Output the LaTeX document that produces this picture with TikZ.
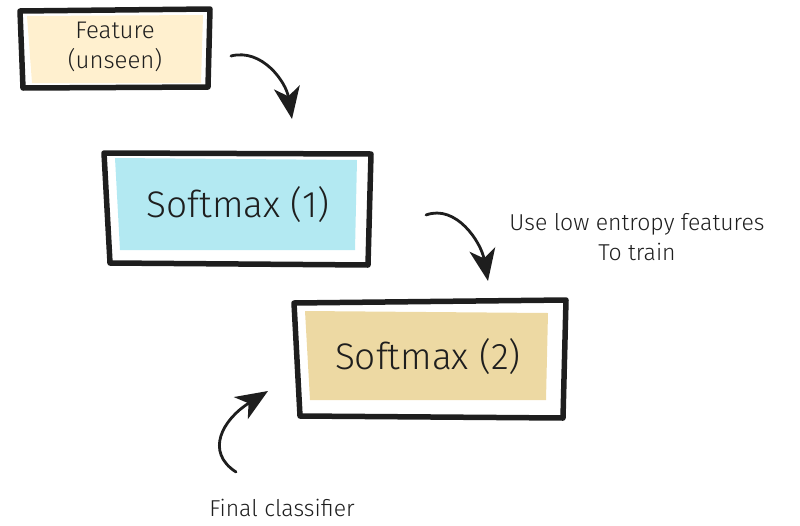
\documentclass[tikz,border=0pt]{standalone}
\usepackage{fontspec}
\setmainfont{Fira Sans}[UprightFont={* Light}]
\usetikzlibrary{calc,arrows.meta}
\definecolor{ink}{HTML}{1E1E1E}
\definecolor{creamfill}{HTML}{FFF0CF}
\definecolor{cyanfill}{HTML}{B3E9F2}
\definecolor{tanfill}{HTML}{EDD9A3}
\tikzset{
  panel/.style={draw=none, inner sep=0pt, text=ink},
  frame/.style={draw=ink, line width=5.5pt, line join=round, line cap=round},
  sketcharrow/.style={draw=ink, line width=2.8pt, line cap=round,
    -{Stealth[length=32pt,width=26pt,inset=9pt]}},
  note/.style={text=ink, font=\fontsize{23}{30}\selectfont, align=center}
}
\begin{document}
\begin{tikzpicture}[x=1pt,y=-1pt]
\useasboundingbox (0,0) rectangle (800,525);

% filled panels
\fill[creamfill] (27,16) -- (203,15) -- (201,83) -- (32,83) -- cycle;
\node[panel, font=\fontsize{24}{30}\selectfont, align=center] (feat) at (115,47) {Feature\\(unseen)};

\fill[cyanfill] (115,158) -- (357,160) -- (355,250) -- (120,250) -- cycle;
\node[panel, font=\fontsize{37}{40}\selectfont] (sm1) at (238,205) {Softmax (1)};

\fill[tanfill] (305,311) -- (548,313) -- (546,400) -- (310,400) -- cycle;
\node[panel, font=\fontsize{37}{40}\selectfont] (sm2) at (428,357) {Softmax (2)};

% hand-drawn frames around the panels
\draw[frame] ($(feat)+(-95,-36)$) -- ($(feat)+(95,-38)$) -- ($(feat)+(93,40)$) -- ($(feat)+(-92,41)$) -- cycle;
\draw[frame] ($(sm1)+(-134,-52)$) -- ($(sm1)+(133,-51)$) -- ($(sm1)+(130,60)$) -- ($(sm1)+(-128,58)$) -- cycle;
\draw[frame] ($(sm2)+(-134,-54)$) -- ($(sm2)+(138,-57)$) -- ($(sm2)+(135,61)$) -- ($(sm2)+(-128,59)$) -- cycle;

% side notes
\node[note] (entropy) at (637,237) {Use low entropy features\\To train};
\node[note] (final) at (282,508) {Final classifier};

% curved arrows
\coordinate (a1s) at (231,56);
\coordinate (a1e) at (292,119);
\coordinate (a2s) at (426,215);
\coordinate (a2e) at (488,281);
\coordinate (a3s) at (236,472);
\coordinate (a3e) at (268,391);
\draw[sketcharrow] (a1s) .. controls (262,48) and (286,82) .. (a1e);
\draw[sketcharrow] (a2s) .. controls (456,204) and (481,242) .. (a2e);
\draw[sketcharrow] (a3s) .. controls (205,452) and (222,420) .. (a3e);
\end{tikzpicture}
\end{document}
